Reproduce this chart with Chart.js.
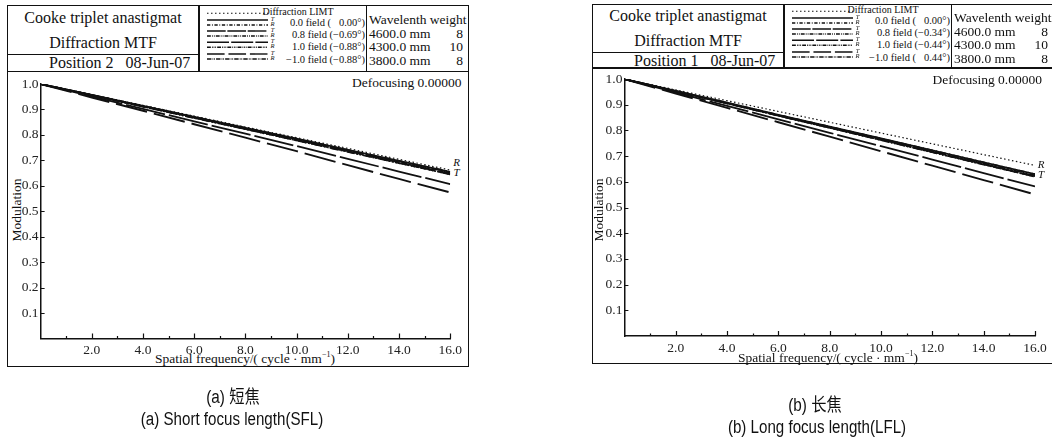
<!DOCTYPE html>
<html>
<head>
<meta charset="utf-8">
<script src="https://cdn.jsdelivr.net/npm/chart.js@4.4.1/dist/chart.umd.min.js"></script>
<style>
  html,body{margin:0;padding:0;background:#fff;}
  body{width:1052px;height:439px;position:relative;overflow:hidden;font-family:"Liberation Serif",serif;color:#111;}
  .box{position:absolute;border:1.5px solid #111;box-sizing:border-box;}
  .ln{position:absolute;background:#111;}
  .t{position:absolute;white-space:pre;line-height:1;}
  canvas{position:absolute;}
  svg{position:absolute;left:0;top:0;}
</style>
</head>
<body>
<script>
// ---------------- data ----------------
const freq = [0, 2, 4, 6, 8, 10, 12, 14, 16];
const xTickLabels = ['', '2.0', '4.0', '6.0', '8.0', '10.0', '12.0', '14.0', '16.0'];
const seriesNames = ['Diffraction LIMT', '0.0 field T', '0.0 field R', '0.8 field T', '0.8 field R',
                     '1.0 field T', '1.0 field R', '-1.0 field T', '-1.0 field R'];

// (a) short focus length
const sflDiffLimit = [1.000, 0.958, 0.916, 0.874, 0.831, 0.789, 0.747, 0.704, 0.662];
const sflField00T  = [1.000, 0.957, 0.914, 0.871, 0.828, 0.785, 0.741, 0.698, 0.655];
const sflField00R  = [1.000, 0.957, 0.914, 0.871, 0.828, 0.785, 0.741, 0.698, 0.655];
const sflField08T  = [1.000, 0.956, 0.912, 0.868, 0.824, 0.780, 0.736, 0.692, 0.648];
const sflField08R  = [1.000, 0.957, 0.913, 0.870, 0.826, 0.783, 0.739, 0.696, 0.652];
const sflField10T  = [1.000, 0.951, 0.902, 0.853, 0.805, 0.756, 0.706, 0.656, 0.607];
const sflField10R  = [1.000, 0.956, 0.911, 0.867, 0.823, 0.778, 0.734, 0.689, 0.645];
const sflFieldM10T = [1.000, 0.947, 0.895, 0.842, 0.789, 0.736, 0.681, 0.627, 0.574];
const sflFieldM10R = [1.000, 0.956, 0.911, 0.866, 0.822, 0.778, 0.733, 0.689, 0.645];

// (b) long focus length
const lflDiffLimit = [1.000, 0.958, 0.916, 0.874, 0.832, 0.790, 0.748, 0.706, 0.664];
const lflField00T  = [1.000, 0.954, 0.908, 0.861, 0.815, 0.769, 0.723, 0.676, 0.630];
const lflField00R  = [1.000, 0.954, 0.908, 0.861, 0.815, 0.769, 0.723, 0.676, 0.630];
const lflField08T  = [1.000, 0.953, 0.906, 0.858, 0.811, 0.764, 0.717, 0.669, 0.622];
const lflField08R  = [1.000, 0.953, 0.906, 0.860, 0.813, 0.766, 0.719, 0.672, 0.625];
const lflField10T  = [1.000, 0.948, 0.896, 0.843, 0.791, 0.739, 0.687, 0.634, 0.582];
const lflField10R  = [1.000, 0.952, 0.905, 0.858, 0.810, 0.763, 0.715, 0.668, 0.620];
const lflFieldM10T = [1.000, 0.944, 0.888, 0.832, 0.776, 0.719, 0.663, 0.607, 0.551];
const lflFieldM10R = [1.000, 0.952, 0.905, 0.857, 0.810, 0.762, 0.715, 0.667, 0.620];

const yTickLabels = ['', '0.1', '0.2', '0.3', '0.4', '0.5', '0.6', '0.7', '0.8', '0.9', '1.0'];
const wavelengths = ['4600.0 mm', '4300.0 mm', '3800.0 mm'];
const weights = ['8', '10', '8'];
const sflFields = ['0.0 field (   0.00°)', '0.8 field (−0.69°)', '1.0 field (−0.88°)', '−1.0 field (−0.88°)'];
const lflFields = ['0.0 field (   0.00°)', '0.8 field (−0.34°)', '1.0 field (−0.44°)', '−1.0 field (   0.44°)'];

// ---------------- styles ----------------
const lineStyles = [
  {dash:[1.5,2.5], w:1.2},
  {dash:[], w:1.8},
  {dash:[6,3,1.5,3], w:1.6},
  {dash:[34,3], w:1.8},
  {dash:[7,2,1.5,2,1.5,2], w:1.6},
  {dash:[40,4], w:1.8},
  {dash:[7,2,1.5,1.5,1.5,1.5,1.5,2], w:1.6},
  {dash:[32,7], w:1.9},
  {dash:[8,2,1.5,1.5,1.5,2], w:1.6}
];

function txt(s, x, y, opts) {
  const d = document.createElement('div');
  d.className = 't';
  d.textContent = s;
  const o = opts || {};
  d.style.fontSize = (o.size || 14) + 'px';
  if (o.italic) d.style.fontStyle = 'italic';
  if (o.family) d.style.fontFamily = o.family;
  let tx = '-50%';
  if (o.align === 'left') tx = '0';
  if (o.align === 'right') tx = '-100%';
  d.style.left = x + 'px';
  d.style.top = y + 'px';
  d.style.transform = 'translate(' + tx + ',-50%)' + (o.rot ? ' rotate(' + o.rot + 'deg)' : '') + (o.sx ? ' scaleX(' + o.sx + ')' : '');
  document.body.appendChild(d);
  return d;
}
function box(x, y, w, h) {
  const d = document.createElement('div');
  d.className = 'box';
  Object.assign(d.style, {left:x+'px', top:y+'px', width:w+'px', height:h+'px'});
  document.body.appendChild(d);
}
function vline(x, y1, y2) {
  const d = document.createElement('div');
  d.className = 'ln';
  Object.assign(d.style, {left:(x-0.75)+'px', top:y1+'px', width:'1.5px', height:(y2-y1)+'px'});
  document.body.appendChild(d);
}
function hline(x1, x2, y) {
  const d = document.createElement('div');
  d.className = 'ln';
  Object.assign(d.style, {left:x1+'px', top:(y-0.75)+'px', width:(x2-x1)+'px', height:'1.5px'});
  document.body.appendChild(d);
}

const inwardTicks = {
  id: 'inwardTicks',
  afterDraw(chart) {
    const ctx = chart.ctx, xs = chart.scales.x, ys = chart.scales.y;
    const a = chart.chartArea;
    ctx.save();
    ctx.strokeStyle = '#111';
    ctx.lineWidth = 1.2;
    ctx.beginPath();
    for (let v = 1; v <= 16; v++) {
      const px = Math.round(xs.getPixelForValue(v)) + 0.5;
      const len = v % 2 === 0 ? 5 : 2.5;
      ctx.moveTo(px, a.bottom);
      ctx.lineTo(px, a.bottom - len);
    }
    for (let i = 1; i <= 10; i++) {
      const py = Math.round(ys.getPixelForValue(i / 10)) + 0.5;
      ctx.moveTo(a.left, py);
      ctx.lineTo(a.left + 4, py);
    }
    ctx.stroke();
    ctx.restore();
  }
};

function makeChart(cfg) {
  const c = document.createElement('canvas');
  c.width = cfg.cw; c.height = cfg.ch;
  c.style.left = cfg.cx + 'px'; c.style.top = cfg.cy + 'px';
  c.style.width = cfg.cw + 'px'; c.style.height = cfg.ch + 'px';
  document.body.appendChild(c);
  const datasets = cfg.series.map((arr, i) => ({
    label: seriesNames[i],
    data: arr.map((v, k) => ({x: freq[k], y: v})),
    borderColor: '#111',
    borderWidth: lineStyles[i].w,
    borderDash: lineStyles[i].dash,
    pointRadius: 0,
    tension: 0,
    fill: false
  }));
  const font = {family: 'Liberation Serif', size: 13.5};
  new Chart(c, {
    type: 'line',
    data: {datasets},
    plugins: [inwardTicks],
    options: {
      responsive: false,
      animation: false,
      devicePixelRatio: 1,
      layout: {padding: {left: 0, top: cfg.padTop, right: cfg.padRight, bottom: 0}},
      plugins: {legend: {display: false}, tooltip: {enabled: false}},
      scales: {
        x: {
          type: 'linear', min: 0, max: 16,
          grid: {display: false, drawTicks: false},
          border: {display: true, color: '#111', width: 1.5},
          ticks: {stepSize: 2, autoSkip: false, maxRotation: 0, color: '#222', font, padding: 4,
                  callback: (v) => xTickLabels[freq.indexOf(v)] ?? ''},
          afterFit: (s) => { s.height = cfg.xh; }
        },
        y: {
          type: 'linear', min: 0, max: 1,
          grid: {display: false, drawTicks: false},
          border: {display: true, color: '#111', width: 1.5},
          ticks: {stepSize: 0.1, autoSkip: false, color: '#222', font, padding: 2,
                  callback: (v) => yTickLabels[Math.round(v * 10)] ?? ''},
          afterFit: (s) => { s.width = cfg.yw; }
        }
      }
    }
  });
}

function legendSamples(x1, x2, ys) {
  const ns = 'http://www.w3.org/2000/svg';
  const svg = document.createElementNS(ns, 'svg');
  svg.setAttribute('width', 1052); svg.setAttribute('height', 439);
  ys.forEach((y, i) => {
    const l = document.createElementNS(ns, 'line');
    l.setAttribute('x1', x1); l.setAttribute('x2', x2);
    l.setAttribute('y1', y); l.setAttribute('y2', y);
    l.setAttribute('stroke', '#111');
    l.setAttribute('stroke-width', i === 0 ? 1.1 : 1.4);
    const d = lineStyles[i].dash.map(v => i === 0 ? v : v * 0.55);
    if (d.length) l.setAttribute('stroke-dasharray', d.join(' '));
    svg.appendChild(l);
  });
  document.body.appendChild(svg);
}

function panel(p) {
  const dx = p.dx, dy = p.dy;
  box(p.bx, p.by, p.bw, p.bh);
  hline(p.bx, p.bx + p.bw, p.hb);
  vline(p.tr, p.by, p.hb);
  vline(p.lr, p.by, p.hb);
  hline(p.bx, p.tr, p.sub);
  // title block
  const tcx = (p.bx + p.tr) / 2;
  txt('Cooke triplet anastigmat', tcx, 18 + dy, {size: 16});
  txt('Diffraction MTF', tcx, 43 + dy, {size: 16});
  txt(p.position, 49 + dx, 63 + dy, {size: 16, align: 'left'});
  // legend block
  txt('Diffraction LIMT', 298 + dx, 12 + dy, {size: 10});
  const rowY = [23, 35, 47, 60];
  p.fields.forEach((f, i) => txt(f, 365 + dx, rowY[i] + dy, {size: 10.5, align: 'right'}));
  const sy = [13.3, 20, 25, 31, 36, 42.3, 47.3, 54, 59].map(v => v + dy);
  legendSamples(207 + dx, 268 + dx, sy);
  const tr = ['T','R','T','R','T','R','T','R'];
  tr.forEach((s, i) => txt(s, 272.5 + dx, sy[i + 1] - 1, {size: 6.5, italic: true}));
  // wavelength block
  txt('Wavelenth weight', 369 + dx, 20 + dy, {size: 13.5, align: 'left'});
  const wy = [33.5, 47, 61];
  wavelengths.forEach((w, i) => {
    txt(w, 369 + dx, wy[i] + dy, {size: 13.5, align: 'left'});
    txt(weights[i], 463 + dx, wy[i] + dy, {size: 13.5, align: 'right'});
  });
  // plot annotations
  txt('Defocusing 0.00000', p.defX, p.defY, {size: 13.5, align: 'right'});
  txt('Modulation', p.modX, 210, {size: 13.5, rot: -90});
  const xt = txt('', p.xtX, p.xtY, {size: 13.5});
  xt.innerHTML = 'Spatial frequency<span style="font-size:12px">/</span>( cycle · mm<sup style="font-size:8px;vertical-align:6px">−1</sup>)';
  txt('R', p.rX, p.rY, {size: 11, italic: true});
  txt('T', p.rX, p.tY, {size: 11, italic: true});
  makeChart(p.chart);
}

panel({
  dx: 0, dy: 0, bx: 7, by: 5, bw: 462, bh: 362, hb: 71.5, tr: 199, lr: 366.7, sub: 54.3,
  position: 'Position 2   08-Jun-07', fields: sflFields,
  defX: 461.5, defY: 83, modX: 17, xtX: 245, xtY: 358, rX: 456.5, rY: 161.5, tY: 172,
  chart: {cx: 8, cy: 73, cw: 458, ch: 292, padTop: 11, padRight: 14, yw: 32.6, xh: 26.5,
          series: [sflDiffLimit, sflField00T, sflField00R, sflField08T, sflField08R,
                   sflField10T, sflField10R, sflFieldM10T, sflFieldM10R]}
});
panel({
  dx: 585, dy: -2, bx: 592, by: 4, bw: 462, bh: 360, hb: 68, tr: 784, lr: 951.7, sub: 52.3,
  position: 'Position 1   08-Jun-07', fields: lflFields,
  defX: 1042, defY: 80, modX: 599, xtX: 828, xtY: 356.5, rX: 1041, rY: 164, tY: 173.5,
  chart: {cx: 592, cy: 69, cw: 459, ch: 294, padTop: 10, padRight: 16, yw: 32.4, xh: 27,
          series: [lflDiffLimit, lflField00T, lflField00R, lflField08T, lflField08R,
                   lflField10T, lflField10R, lflFieldM10T, lflFieldM10R]}
});

// captions
const capFont = '"Liberation Sans","Noto Sans CJK SC",sans-serif';
txt('(a) 短焦', 233, 397, {size: 18, family: capFont, sx: 0.85});
txt('(a) Short focus length(SFL)', 232, 419, {size: 18, family: capFont, sx: 0.84});
txt('(b) 长焦', 815, 405, {size: 18, family: capFont, sx: 0.85});
txt('(b) Long focus length(LFL)', 817, 427, {size: 18, family: capFont, sx: 0.84});
</script>
</body>
</html>
